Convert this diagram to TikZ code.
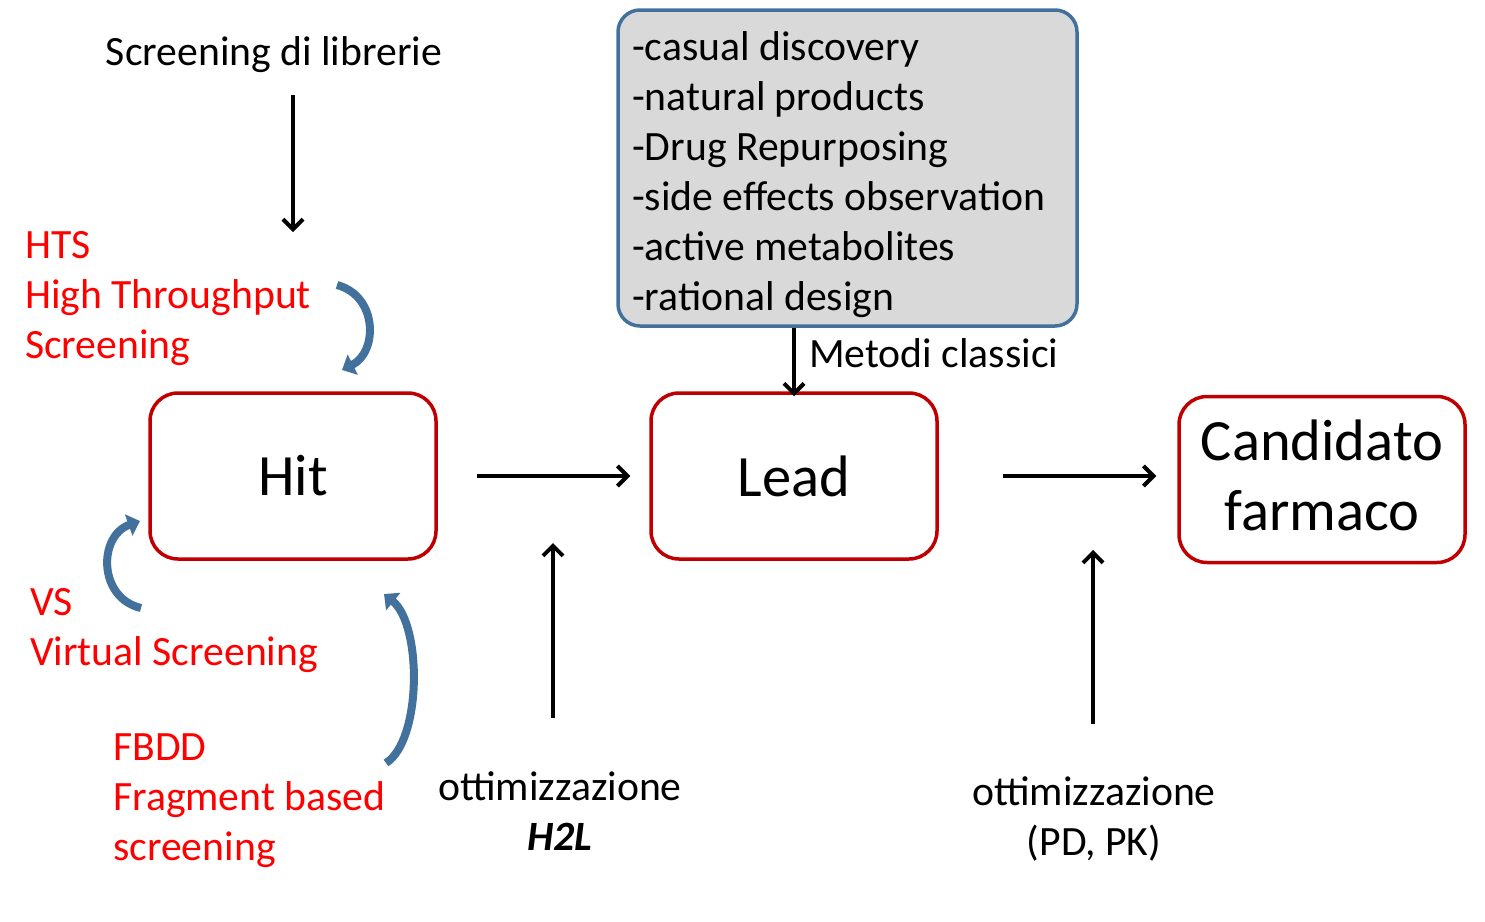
\documentclass[tikz,border=0pt]{standalone}
\usepackage{fontspec}
\setmainfont{Carlito}
\usetikzlibrary{arrows.meta}
\definecolor{boxred}{HTML}{C00000}
\definecolor{txtred}{HTML}{FF0000}
\definecolor{pblue}{HTML}{41719C}
\definecolor{pgray}{HTML}{D9D9D9}
\begin{document}
\begin{tikzpicture}[x=1pt,y=-1pt,
  small/.style={font=\fontsize{41.7}{50}\selectfont, inner sep=0pt},
  redtxt/.style={small, text=txtred, align=left, anchor=north west},
  stage/.style={draw=boxred, line width=3.5pt, rounded corners=28pt, fill=white,
    minimum width=286pt, minimum height=166pt, inner sep=0pt,
    font=\fontsize{58.5}{70}\selectfont, align=center},
  blk/.style={line width=4pt, -{Straight Barb[length=10pt,width=20pt,line width=4pt]}},
  bluearr/.style={draw=pblue, line width=8pt, -{Triangle[length=12pt,width=22pt]}},
]
\useasboundingbox (0,0) rectangle (1485,921);

% stage boxes
\node[stage] (hit) at (293,476) {Hit};
\node[stage] (lead) at (794,476) {Lead};
\node[stage, text depth=9pt] (cand) at (1322,479.5) {Candidato\\farmaco};

% gray box
\node[draw=pblue, fill=pgray, line width=3.5pt, rounded corners=22pt,
  minimum width=459pt, minimum height=316pt, inner sep=0pt] (gb) at (847.5,168) {};
\node[small, align=left, anchor=north west] (gbt) at (632,25)
  {\strut-casual discovery\\\strut-natural products\\\strut-Drug Repurposing\\\strut-side effects observation\\\strut-active metabolites\\\strut-rational design};
\node[small, anchor=base west] (met) at (809,367) {Metodi classici};

% top text
\node[small, anchor=base] (scr) at (274,65) {Screening di librerie};
\coordinate (scrend) at (293,232);
\draw[blk] (293,95) -- (scrend);

% red labels
\node[redtxt] (hts) at (25,223) {\strut HTS\\\strut High Throughput\\\strut Screening};
\node[redtxt] (vs) at (30,580) {\strut VS\\\strut Virtual Screening};
\node[redtxt] (fbdd) at (113,725) {\strut FBDD\\\strut Fragment based\\\strut screening};

% bottom labels
\node[small, align=center, anchor=north] (opt1) at (560,765) {\strut ottimizzazione\\\strut\textbf{\textit{H2L}}};
\node[small, align=center, anchor=north] (opt2) at (1094,770) {\strut ottimizzazione\\\strut (PD, PK)};

% horizontal arrows
\draw[blk] ([xshift=39pt]hit.east) -- ([xshift=-19pt]lead.west);
\draw[blk] ([xshift=64pt]lead.east) -- ([xshift=-21pt]cand.west |- lead.east);
% gray box to lead
\draw[blk] (lead.north |- gb.south) -- ([yshift=-5pt]lead.north);

% vertical arrows
\coordinate (u1) at (553,543);
\coordinate (u2) at (1093,550);
\draw[blk] (553,718) -- (u1);
\draw[blk] (1093,724) -- (u2);

% blue curved arrows
\draw[bluearr] (337,285) .. controls (378,296) and (378,352) .. (342,370);
\draw[bluearr] (141,608) .. controls (98,598) and (98,536) .. (140,521);
\draw[bluearr] (386,763) .. controls (422,740) and (422,625) .. (384,594);
\end{tikzpicture}
\end{document}
